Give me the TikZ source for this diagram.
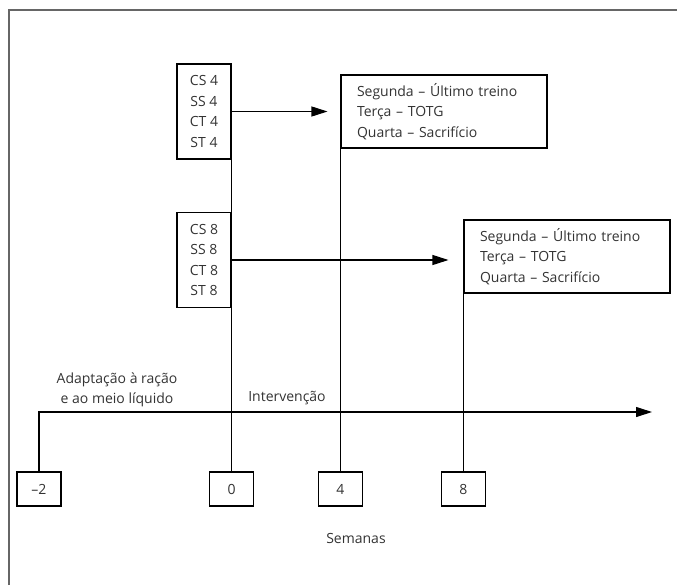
\documentclass[tikz,border=0pt]{standalone}
\usepackage{fontspec}
\setmainfont{Open Sans}
\usetikzlibrary{arrows.meta}

\begin{document}
\begin{tikzpicture}[x=0.75pt,y=-0.75pt,line width=0.8pt,font=\fontsize{10.5}{15.4}\selectfont]
	\tikzstyle{every node}=[text=black!80]
	\tikzstyle{grupo}=[draw,rectangle,align=center,minimum width=40.5pt,minimum height=71.25pt,inner sep=0pt]
	\tikzstyle{dias}=[draw,rectangle,align=left,text width=130.5pt,inner xsep=12pt,inner ysep=0pt,minimum height=54.75pt]
	\tikzstyle{semana}=[draw,rectangle,minimum width=33pt,minimum height=25.5pt,inner sep=0pt]
	\tikzstyle{seta}=[-{Triangle[length=12pt,width=7.5pt]}]
	
	\useasboundingbox (0,0) rectangle (677,585);
	\draw[black!60,line width=1pt] (9,585) -- (9,10) -- (677,10);
	
	\node[grupo] (cs4) at (204,111.5) {CS 4\\SS 4\\CT 4\\ST 4};
	\node[grupo] (cs8) at (204,260) {CS 8\\SS 8\\CT 8\\ST 8};
	\node[dias] (sem4) at (444,111.5) {Segunda – Último treino\\Terça – TOTG\\Quarta – Sacrifício};
	\node[dias] (sem8) at (567,256.5) {Segunda – Último treino\\Terça – TOTG\\Quarta – Sacrifício};
	
	\node[semana] (wkm2) at (39,489) {–2};
	\node[semana] (wk0) at (cs8.south east |- wkm2) {0};
	\node[semana] (wk4) at (sem4.south west |- wkm2) {4};
	\node[semana] (wk8) at (sem8.south west |- wkm2) {8};
	
	\node[align=center] (adapt) at (117,390) {Adaptação à ração\\e ao meio líquido};
	\node (interv) at (287,398) {Intervenção};
	\node (semanas) at (356,538) {Semanas};
	
	\coordinate (fim) at (652,412);
	
	% linhas verticais
	\draw (cs4.south east) -- (cs8.north east);
	\draw (cs8.south east) -- (wk0.north);
	\draw (sem4.south west) -- (wk4.north);
	\draw (sem8.south west) -- (wk8.north);
	
	% setas
	\draw[seta,shorten >=9.75pt] (cs4.east) -- (cs4.east -| sem4.west);
	\draw[seta,shorten >=11.25pt] (cs8.east) -- (cs8.east -| sem8.west);
	\draw[seta] (wkm2.north) |- (fim);
	
\end{tikzpicture}
\end{document}
